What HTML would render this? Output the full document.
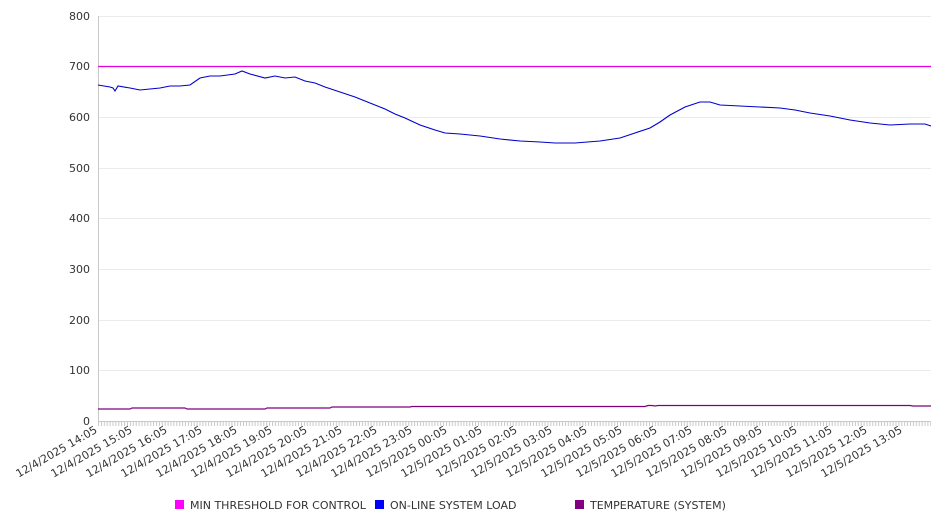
<!DOCTYPE html>
<html><head><meta charset="utf-8"><style>
html,body{margin:0;padding:0;background:#fff;}
svg{display:block;font-family:"DejaVu Sans","Liberation Sans",sans-serif;}
</style></head><body>
<svg width="946" height="526" viewBox="0 0 946 526">
<g stroke="#ebebeb" stroke-width="1">
<line x1="98" x2="931" y1="16.5" y2="16.5"/><line x1="98" x2="931" y1="117.5" y2="117.5"/>
<line x1="98" x2="931" y1="168.5" y2="168.5"/><line x1="98" x2="931" y1="218.5" y2="218.5"/>
<line x1="98" x2="931" y1="269.5" y2="269.5"/><line x1="98" x2="931" y1="320.5" y2="320.5"/>
<line x1="98" x2="931" y1="370.5" y2="370.5"/>
</g>
<line x1="98.5" x2="98.5" y1="16" y2="421" stroke="#c8c8c8"/>
<line x1="98" x2="931" y1="421.5" y2="421.5" stroke="#c8c8c8"/>
<defs><pattern id="tk" x="98" y="0" width="2.9" height="526" patternUnits="userSpaceOnUse"><line x1="0.5" x2="0.5" y1="0" y2="526" stroke="#c8c8c8" stroke-width="1"/></pattern></defs>
<rect x="98" y="422" width="833" height="4" fill="url(#tk)"/>
<g font-size="11" fill="#333" text-anchor="end">
<text x="90" y="20">800</text><text x="90" y="70">700</text><text x="90" y="121">600</text>
<text x="90" y="172">500</text><text x="90" y="222">400</text><text x="90" y="273">300</text>
<text x="90" y="324">200</text><text x="90" y="374">100</text><text x="90" y="425">0</text>
</g>
<line x1="98" x2="931" y1="66.5" y2="66.5" stroke="#e000e0" stroke-width="1.2"/>
<polyline fill="none" stroke="#0000cc" stroke-width="1.1" points="98,85 110,87 113,88 115,91 118,86 130,88 140,90 150,89 160,88 170,86 180,86 190,85 200,78 210,76 220,76 235,74 242,71 250,74 265,78 275,76 285,78 295,77 305,81 315,83 325,87 340,92 355,97 365,101 375,105 385,109 395,114 405,118 420,125 435,130 445,133 460,134 480,136 500,139 520,141 540,142 555,143 575,143 600,141 620,138 635,133 650,128 660,122 670,115 685,107 700,102 710,102 720,105 740,106 760,107 780,108 795,110 810,113 830,116 850,120 870,123 890,125 910,124 925,124 931,126"/>
<polyline fill="none" stroke="#800080" stroke-width="1.2" points="98,409 130,409 132,408 185,408 187,409 265,409 267,408 330,408 332,407 410,407 412,406.5 645,406.5 648,405.5 652,405.5 655,406 658,405.5 910,405.5 913,406 931,406"/>
<g font-size="11" fill="#333" text-anchor="end">
<text transform="translate(98,432) rotate(-30)">12/4/2025 14:05</text>
<text transform="translate(133,432) rotate(-30)">12/4/2025 15:05</text>
<text transform="translate(168,432) rotate(-30)">12/4/2025 16:05</text>
<text transform="translate(203,432) rotate(-30)">12/4/2025 17:05</text>
<text transform="translate(238,432) rotate(-30)">12/4/2025 18:05</text>
<text transform="translate(273,432) rotate(-30)">12/4/2025 19:05</text>
<text transform="translate(308,432) rotate(-30)">12/4/2025 20:05</text>
<text transform="translate(343,432) rotate(-30)">12/4/2025 21:05</text>
<text transform="translate(378,432) rotate(-30)">12/4/2025 22:05</text>
<text transform="translate(413,432) rotate(-30)">12/4/2025 23:05</text>
<text transform="translate(448,432) rotate(-30)">12/5/2025 00:05</text>
<text transform="translate(483,432) rotate(-30)">12/5/2025 01:05</text>
<text transform="translate(518,432) rotate(-30)">12/5/2025 02:05</text>
<text transform="translate(553,432) rotate(-30)">12/5/2025 03:05</text>
<text transform="translate(588,432) rotate(-30)">12/5/2025 04:05</text>
<text transform="translate(623,432) rotate(-30)">12/5/2025 05:05</text>
<text transform="translate(658,432) rotate(-30)">12/5/2025 06:05</text>
<text transform="translate(693,432) rotate(-30)">12/5/2025 07:05</text>
<text transform="translate(728,432) rotate(-30)">12/5/2025 08:05</text>
<text transform="translate(763,432) rotate(-30)">12/5/2025 09:05</text>
<text transform="translate(798,432) rotate(-30)">12/5/2025 10:05</text>
<text transform="translate(833,432) rotate(-30)">12/5/2025 11:05</text>
<text transform="translate(868,432) rotate(-30)">12/5/2025 12:05</text>
<text transform="translate(903,432) rotate(-30)">12/5/2025 13:05</text>
</g>
<g font-size="11" fill="#333">
<rect x="175" y="500" width="9" height="9" fill="#ff00ff"/><text x="190" y="509">MIN THRESHOLD FOR CONTROL</text>
<rect x="375" y="500" width="9" height="9" fill="#0000ff"/><text x="390" y="509">ON-LINE SYSTEM LOAD</text>
<rect x="575" y="500" width="9" height="9" fill="#800080"/><text x="590" y="509">TEMPERATURE (SYSTEM)</text>
</g>
</svg>
</body></html>
